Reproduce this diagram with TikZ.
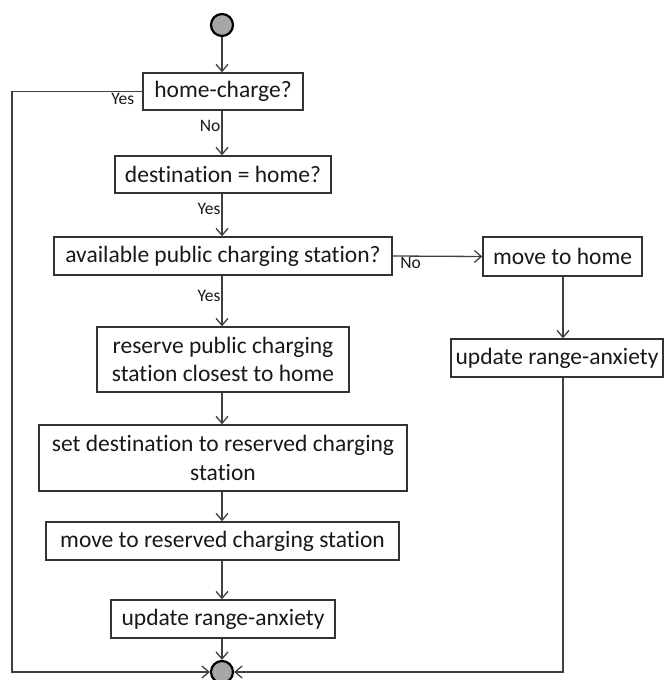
\documentclass[tikz,border=0pt]{standalone}
\usepackage{fontspec}
\setmainfont{Carlito}[Ligatures=NoCommon]
\usetikzlibrary{arrows.meta}

\tikzset{
  box/.style={draw=black!80, line width=1.4pt, fill=white, inner sep=2pt, align=center,
              text=black!90, font=\fontsize{23.5}{28.5}\selectfont},
  dot/.style={circle, draw=black, line width=2.2pt, fill=black!35, minimum size=22pt, inner sep=0pt},
  flow/.style={draw=black!75, line width=1.3pt, -{Straight Barb[length=7pt,width=12pt]}},
  lbl/.style={font=\fontsize{17.5}{20}\selectfont, text=black!90, inner sep=1pt}
}

\begin{document}
\begin{tikzpicture}[x=1pt,y=-1pt]
  \useasboundingbox (0,0) rectangle (668,680);

  \node[dot] (start) at (222,25) {};
  \node[box, minimum width=160pt, minimum height=37pt] (hc) at (223,91.5) {home-charge?};
  \node[box, minimum width=216pt, minimum height=37pt] (dest) at (223,174.5) {destination = home?};
  \node[box, minimum width=338pt, minimum height=38pt] (avail) at (223,256) {available public charging station?};
  \node[box, minimum width=159pt, minimum height=39pt] (mvhome) at (562.5,256.5) {move to home};
  \node[box, minimum width=212pt, minimum height=38pt] (updR) at (557,358) {update range-anxiety};
  \node[box, minimum width=252pt, minimum height=65pt] (reserve) at (223,359.5)
    {reserve public charging\\station closest to home};
  \node[box, minimum width=368pt, minimum height=66pt] (setdest) at (223,458)
    {set destination to reserved charging\\station};
  \node[box, minimum width=353pt, minimum height=38pt] (mvres) at (222.5,541) {move to reserved charging station};
  \node[box, minimum width=224pt, minimum height=38pt] (updL) at (223,619) {update range-anxiety};
  \node[dot] (end) at (222,672) {};

  % main column
  \draw[flow] (start) -- (start |- hc.north);
  \draw[flow] (hc.south -| start) -- node[lbl, left, pos=0.35] {No} (dest.north -| start);
  \draw[flow] (dest.south -| start) -- node[lbl, left, pos=0.35] {Yes} (avail.north -| start);
  \draw[flow] (avail.south -| start) -- node[lbl, left, pos=0.4] {Yes} (reserve.north -| start);
  \draw[flow] (reserve.south -| start) -- (setdest.north -| start);
  \draw[flow] (setdest.south -| start) -- (mvres.north -| start);
  \draw[flow] (mvres.south -| start) -- (updL.north -| start);
  \draw[flow] (updL.south -| start) -- (end);

  % right branch
  \draw[flow] (avail.east) -- node[lbl, below, pos=0.2] {No} (mvhome.west);
  \draw[flow] (mvhome.south -| 563,0) -- (updR.north -| 563,0);
  \draw[flow] (updR.south -| 563,0) -- (563,672) -- (end.east);

  % home-charge yes
  \draw[flow] (hc.west) -- node[lbl, below, pos=0.15] {Yes} (12,91.5) -- (12,672) -- (end.west);
\end{tikzpicture}
\end{document}
